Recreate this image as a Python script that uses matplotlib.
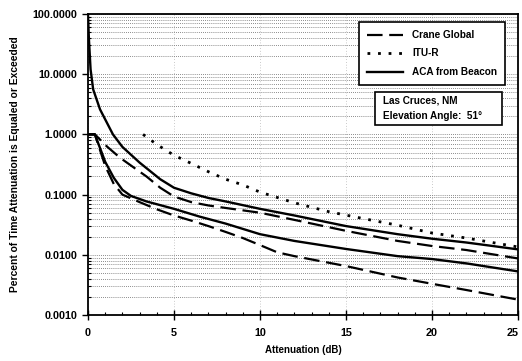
import matplotlib
matplotlib.use("Agg")
import matplotlib.pyplot as plt
import matplotlib.transforms as mtransforms
from matplotlib.patches import Rectangle
from matplotlib.ticker import FixedLocator, FixedFormatter, LogLocator, MultipleLocator, NullFormatter

plt.rcParams['font.family'] = ['Liberation Sans', 'DejaVu Sans']

# ACA from Beacon (upper)
aca_hi_x = [0, 0.05, 0.15, 0.3, 0.7, 1.45, 2.0, 3.0, 4.2, 5.0, 6.0, 7.0, 8.0, 10.0, 12.0, 15.0, 18.0, 20.0, 22.0, 25.0]
aca_hi_p = [100, 40, 12, 5.6, 2.6, 1.0, 0.62, 0.34, 0.18, 0.13, 0.105, 0.088, 0.077, 0.058, 0.045, 0.030, 0.022, 0.0185, 0.016, 0.0123]

# ACA from Beacon (lower)
aca_lo_x = [0, 0.4, 1.0, 1.5, 2.0, 2.5, 3.4, 5.0, 6.5, 8.0, 10.0, 12.0, 15.0, 18.0, 20.0, 22.0, 25.0]
aca_lo_p = [1.0, 1.0, 0.35, 0.19, 0.12, 0.095, 0.077, 0.058, 0.043, 0.033, 0.022, 0.017, 0.0125, 0.0095, 0.0085, 0.0072, 0.0053]

# Crane Global (upper)
crane_hi_x = [0, 0.4, 1.1, 1.86, 2.6, 3.4, 4.2, 5.0, 6.0, 7.0, 8.0, 10.0, 12.0, 15.0, 18.0, 20.0, 22.0, 25.0]
crane_hi_p = [1.0, 1.0, 0.63, 0.41, 0.29, 0.2, 0.13, 0.093, 0.075, 0.066, 0.06, 0.05, 0.038, 0.025, 0.017, 0.014, 0.012, 0.0087]

# Crane Global (lower)
crane_lo_x = [0, 0.4, 1.0, 1.5, 2.0, 3.0, 4.0, 5.0, 6.0, 7.0, 8.0, 9.0, 10.0, 11.0, 12.0, 15.0, 18.0, 20.0, 22.0, 25.0]
crane_lo_p = [1.0, 1.0, 0.3, 0.15, 0.1, 0.075, 0.057, 0.045, 0.037, 0.030, 0.024, 0.019, 0.0145, 0.011, 0.0095, 0.0065, 0.0042, 0.0033, 0.0026, 0.0018]

# ITU-R prediction
itu_x = [3.2, 4.0, 5.0, 6.0, 7.0, 8.0, 9.0, 10.0, 12.0, 14.0, 16.0, 18.0, 20.0, 22.0, 25.0]
itu_p = [1.0, 0.68, 0.45, 0.33, 0.24, 0.18, 0.145, 0.11, 0.073, 0.052, 0.040, 0.031, 0.023, 0.019, 0.0135]

y_ticks = [0.001, 0.01, 0.1, 1, 10, 100]
y_labels = ["0.0010", "0.0100", "0.1000", "1.0000", "10.0000", "100.0000"]
x_ticks = [0, 5, 10, 15, 20, 25]

fig = plt.figure(figsize=(5.22, 3.61), dpi=100)
ax = fig.add_axes([88/522, 1-315/361, 430/522, 301/361])

dash = (0, (7, 3))
ax.plot(crane_hi_x, crane_hi_p, color='black', lw=1.6, ls=dash, label='Crane Global')
ax.plot(itu_x, itu_p, color='black', lw=2.0, ls=(0, (1, 2.8)), label='ITU-R')
ax.plot(aca_hi_x, aca_hi_p, color='black', lw=1.7, label='ACA from Beacon')
ax.plot(crane_lo_x, crane_lo_p, color='black', lw=1.6, ls=dash)
ax.plot(aca_lo_x, aca_lo_p, color='black', lw=1.7)

ax.set_yscale('log')
ax.set_xlim(0, 25)
ax.set_ylim(0.001, 100)

ax.yaxis.set_major_locator(FixedLocator(y_ticks))
ax.yaxis.set_major_formatter(FixedFormatter(y_labels))
ax.yaxis.set_minor_locator(LogLocator(base=10, subs=range(2, 10)))
ax.yaxis.set_minor_formatter(NullFormatter())
ax.xaxis.set_major_locator(FixedLocator(x_ticks))
ax.xaxis.set_minor_locator(MultipleLocator(1))

ax.grid(True, which='both', axis='y', color='#666666', lw=0.6, ls=(0, (1, 1.5)))
ax.grid(True, which='major', axis='x', color='#999999', lw=0.5, ls=(0, (1, 3)))

ax.tick_params(axis='y', which='major', direction='out', length=4, width=1, labelsize=7.8)
ax.tick_params(axis='y', which='minor', direction='in', length=2.5, width=0.8)
ax.tick_params(axis='x', which='major', direction='inout', length=7, width=1, labelsize=7.8, pad=6)
ax.tick_params(axis='x', which='minor', direction='in', length=2.5, width=0.8)
for lab in ax.get_xticklabels() + ax.get_yticklabels():
    lab.set_fontweight('bold')

# keep the last x label inside the canvas
last = ax.get_xticklabels()[-1]
last.set_transform(last.get_transform() +
                   mtransforms.ScaledTranslation(-4/72, 0, fig.dpi_scale_trans))

for side in ['left', 'bottom', 'right', 'top']:
    ax.spines[side].set_linewidth(1.3)

ax.set_xlabel('Attenuation (dB)', fontsize=7, fontweight='bold', labelpad=5)
ax.set_ylabel('Percent of Time Attenuation is Equaled or Exceeded', fontsize=7.4,
              fontweight='bold', labelpad=9)

leg = fig.legend(loc='upper right', bbox_to_anchor=(505/522, 1-22/361),
                 frameon=True, fancybox=False, edgecolor='black', framealpha=1,
                 prop={'size': 7.2, 'weight': 'bold'}, handlelength=3.6,
                 labelspacing=0.85, borderpad=0.8, handletextpad=0.9, borderaxespad=0)
leg.get_frame().set_linewidth(1.2)
leg._legend_box.align = 'left'

# site information box
ax.add_patch(Rectangle((0.667, 0.631), 0.296, 0.110, transform=ax.transAxes,
                       facecolor='white', edgecolor='black', lw=1.2, zorder=5))
ax.text(0.686, 0.686, 'Las Cruces, NM\nElevation Angle:  51°', transform=ax.transAxes,
        fontsize=7.2, fontweight='bold', va='center', ha='left', linespacing=1.7, zorder=6)

fig.savefig('out.png', dpi=100)
